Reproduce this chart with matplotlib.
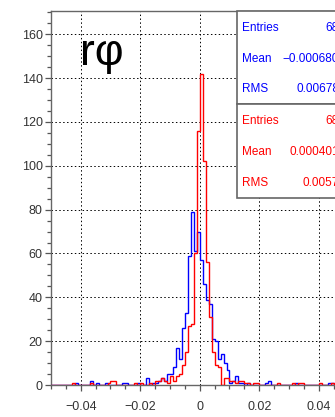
import numpy as np
import matplotlib
matplotlib.use('Agg')
import matplotlib.pyplot as plt
from matplotlib.patches import Rectangle
from matplotlib.ticker import MultipleLocator

plt.rcParams['font.family'] = ['Liberation Sans', 'DejaVu Sans']

# histogram: 100 bins between -0.05 and 0.05
edges = np.linspace(-0.05, 0.05, 101)

blue_counts = [
    0, 0, 0, 0, 0, 0, 0, 0, 1, 0,
    0, 0, 0, 2, 0, 1, 0, 0, 1, 0,
    0, 0, 0, 0, 1, 1, 0, 0, 0, 1,
    0, 0, 3, 0, 1, 1, 2, 3, 2, 5,
    5, 8, 17, 12, 26, 33, 59, 79, 61, 70,
    57, 46, 39, 37, 21, 20, 12, 14, 10, 7,
    1, 2, 4, 1, 1, 0, 1, 0, 0, 0,
    0, 0, 1, 2, 0, 0, 0, 0, 0, 0,
    0, 0, 1, 0, 0, 0, 0, 0, 0, 0,
    0, 0, 0, 1, 1, 0, 0, 0, 0, 0,
]
red_counts = [
    0, 0, 0, 0, 0, 0, 0, 1, 0, 0,
    0, 0, 0, 1, 0, 0, 0, 0, 0, 1,
    2, 2, 0, 0, 0, 0, 0, 0, 1, 0,
    1, 0, 0, 1, 0, 2, 2, 3, 2, 1,
    4, 2, 4, 5, 9, 15, 27, 28, 60, 116,
    142, 102, 56, 31, 15, 9, 8, 0, 3, 3,
    2, 2, 1, 2, 2, 1, 1, 0, 1, 1,
    0, 0, 0, 0, 0, 0, 1, 0, 0, 0,
    0, 1, 0, 1, 1, 0, 0, 0, 0, 0,
    1, 0, 0, 0, 1, 0, 0, 0, 0, 0,
]

# stat box texts (the box runs past the right edge, as in the original)
blue_stats = [('Entries', '684'), ('Mean', '\u22120.0006802'), ('RMS', '0.006783')]
red_stats = [('Entries', '684'), ('Mean', '0.0004013'), ('RMS', '0.00571')]

fig = plt.figure(figsize=(3.35, 4.17), dpi=100)
ax = fig.add_axes([0.1522, 0.0767, 0.888, 0.8969])

ax.stairs(blue_counts, edges, color='#0000ff', lw=1.0, baseline=0, zorder=3)
ax.stairs(red_counts, edges, color='#ff0000', lw=1.0, baseline=0, zorder=4)

ax.set_xlim(-0.05, 0.05)
ax.set_ylim(0, 170.6)

ax.xaxis.set_major_locator(MultipleLocator(0.02))
ax.xaxis.set_minor_locator(MultipleLocator(0.005))
ax.yaxis.set_major_locator(MultipleLocator(20))
ax.yaxis.set_minor_locator(MultipleLocator(5))

ax.xaxis.set_major_formatter(plt.FuncFormatter(
    lambda v, p: '0' if abs(v) < 1e-9 else ('%.2f' % v).replace('-', '\u2212')))

ax.tick_params(axis='both', which='major', labelsize=9, labelcolor='#333333',
               color='#555555', length=4.5, width=0.9)
ax.tick_params(axis='both', which='minor', color='#555555', length=2.6, width=0.9)
ax.tick_params(axis='x', which='major', pad=7)
ax.tick_params(axis='y', which='major', pad=1.5)

for s in ax.spines.values():
    s.set_color('#666666')
    s.set_linewidth(1.0)

ax.set_axisbelow(True)
ax.grid(which='major', color='black', linestyle=(0, (1.5, 2.5)), lw=0.7)

ax.text(0.0975, 0.856, 'r\u03c6', transform=ax.transAxes, fontsize=32,
        va='baseline', ha='left', color='black')

# stat boxes
ax.add_patch(Rectangle((0.624, 0.751), 0.6, 0.249, transform=ax.transAxes,
                       facecolor='white', edgecolor='#666666', lw=1.2,
                       clip_on=False, zorder=10))
ax.add_patch(Rectangle((0.624, 0.5), 0.6, 0.251, transform=ax.transAxes,
                       facecolor='white', edgecolor='#666666', lw=1.2,
                       clip_on=False, zorder=10))

ys_blue = [0.9545, 0.8717, 0.7914]
ys_red = [0.706, 0.623, 0.540]
for (lab, val), y in zip(blue_stats, ys_blue):
    ax.text(0.642, y, lab, transform=ax.transAxes, fontsize=8.5, color='#0000ff',
            va='center', ha='left', zorder=11)
    ax.text(0.99, y, val, transform=ax.transAxes, fontsize=8.5, color='#0000ff',
            va='center', ha='right', zorder=11)
for (lab, val), y in zip(red_stats, ys_red):
    ax.text(0.642, y, lab, transform=ax.transAxes, fontsize=8.5, color='#ff0000',
            va='center', ha='left', zorder=11)
    ax.text(0.99, y, val, transform=ax.transAxes, fontsize=8.5, color='#ff0000',
            va='center', ha='right', zorder=11)

fig.savefig('out.png', dpi=100)
